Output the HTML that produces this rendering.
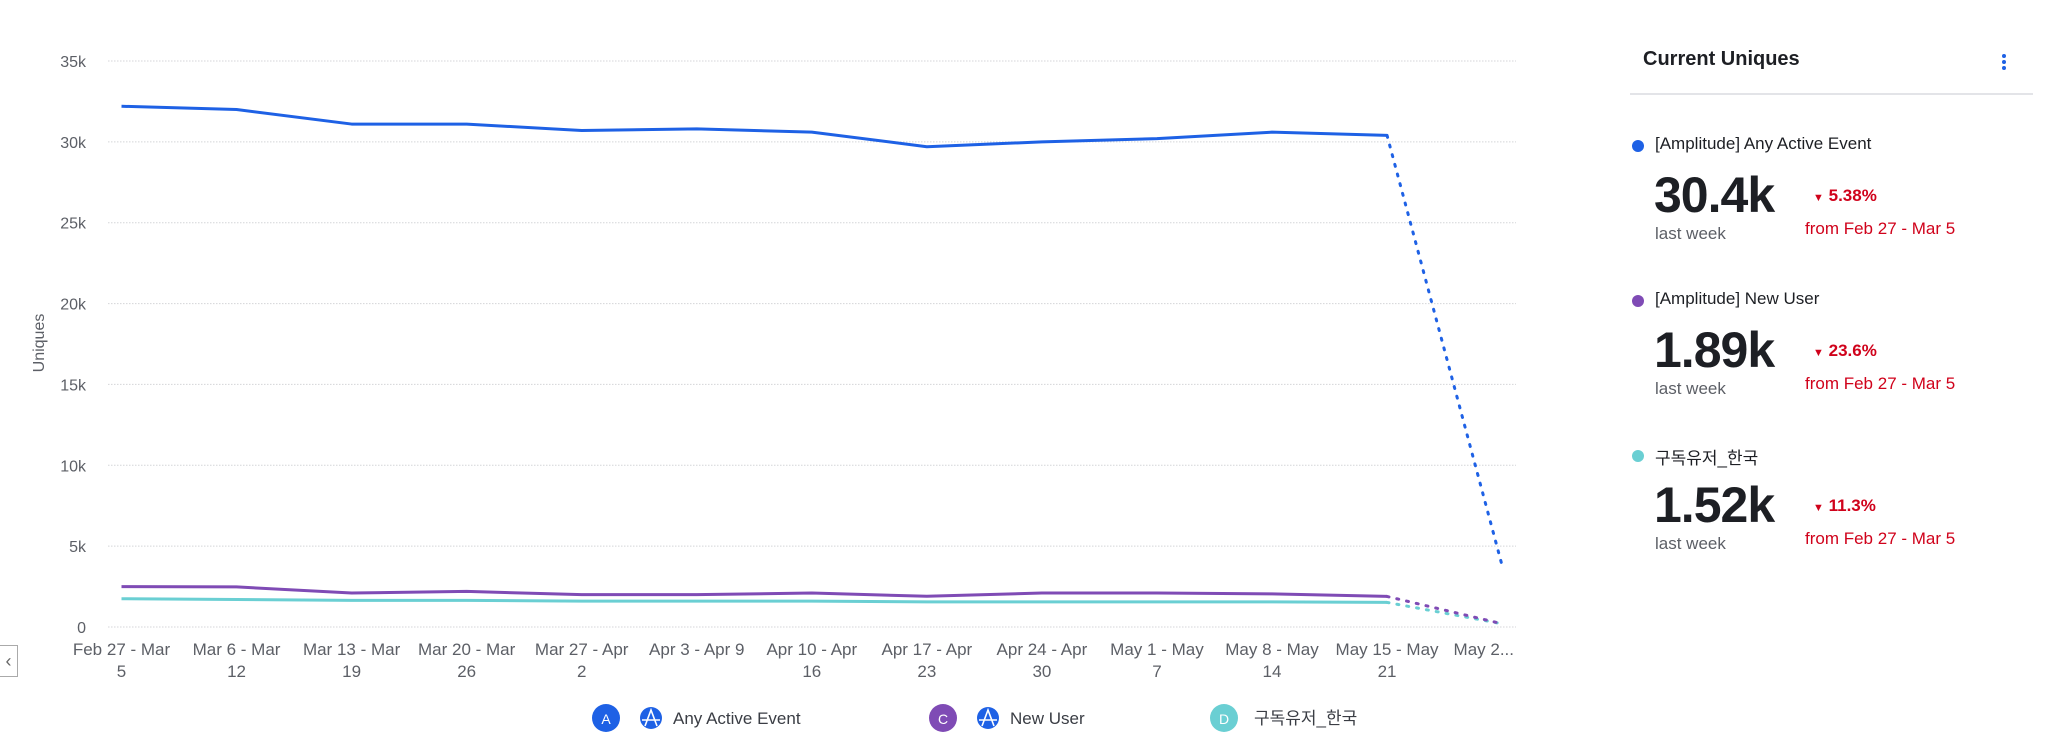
<!DOCTYPE html>
<html><head><meta charset="utf-8">
<style>
body{margin:0;width:2048px;height:755px;background:#fff;overflow:hidden;font-family:"Liberation Sans","Noto Sans CJK KR",sans-serif;}
svg text{font-family:"Liberation Sans","Noto Sans CJK KR",sans-serif;}
.panel{position:absolute;left:1630px;top:0;width:410px;height:755px;}
.title{position:absolute;left:13px;top:48px;font-size:20px;font-weight:bold;color:#1d1f24;}
.kebab{position:absolute;left:372px;top:54px;width:6px;}
.kebab i{display:block;width:4px;height:4px;border-radius:2px;background:#1e61e5;margin-bottom:2px;}
.divider{position:absolute;left:0;top:93px;width:403px;height:2px;background:#e3e4e8;}
.entry{position:absolute;left:0;width:410px;height:150px;}
.dot{position:absolute;left:2px;top:8px;width:12px;height:12px;border-radius:6px;}
.lbl{position:absolute;left:25px;top:2px;font-size:17px;color:#1d1f24;}
.big{position:absolute;left:24px;top:34px;font-size:50px;font-weight:bold;color:#1d1f24;letter-spacing:-1px;}
.lw{position:absolute;left:25px;top:92px;font-size:17px;color:#5c5f66;}
.pct{position:absolute;left:183px;top:54px;font-size:17px;font-weight:bold;color:#d0021b;}
.from{position:absolute;left:175px;top:87px;font-size:17px;color:#d0021b;}
.back{position:absolute;left:0;top:645px;width:18px;height:32px;border:1px solid #aaa;border-left:none;box-sizing:border-box;color:#666;font-size:18px;text-align:center;line-height:30px;}
</style></head><body>
<svg id="chart" width="1600" height="755" style="position:absolute;left:0;top:0"></svg>
<div class="back">&lsaquo;</div>
<div class="panel">
 <div class="title">Current Uniques</div>
 <div class="kebab"><i></i><i></i><i></i></div>
 <div class="divider"></div>
 <div class="entry" style="top:132px">
  <div class="dot" style="background:#1e61e5"></div>
  <div class="lbl">[Amplitude] Any Active Event</div>
  <div class="big">30.4k</div>
  <div class="lw">last week</div>
  <div class="pct"><span style="font-size:11px">▼</span> 5.38%</div>
  <div class="from">from Feb 27 - Mar 5</div>
 </div>
 <div class="entry" style="top:287px">
  <div class="dot" style="background:#7f4bb5"></div>
  <div class="lbl">[Amplitude] New User</div>
  <div class="big">1.89k</div>
  <div class="lw">last week</div>
  <div class="pct"><span style="font-size:11px">▼</span> 23.6%</div>
  <div class="from">from Feb 27 - Mar 5</div>
 </div>
 <div class="entry" style="top:442px">
  <div class="dot" style="background:#6acfd3"></div>
  <div class="lbl">구독유저_한국</div>
  <div class="big">1.52k</div>
  <div class="lw">last week</div>
  <div class="pct"><span style="font-size:11px">▼</span> 11.3%</div>
  <div class="from">from Feb 27 - Mar 5</div>
 </div>
</div>
<script>
const categories1 = ["Feb 27 - Mar","Mar 6 - Mar","Mar 13 - Mar","Mar 20 - Mar","Mar 27 - Apr","Apr 3 - Apr 9","Apr 10 - Apr","Apr 17 - Apr","Apr 24 - Apr","May 1 - May","May 8 - May","May 15 - May","May 2..."];
const categories2 = ["5","12","19","26","2","","16","23","30","7","14","21",""];
const activeEvent = [32200,32000,31100,31100,30700,30800,30600,29700,30000,30200,30600,30400,3800];
const newUser = [2500,2480,2100,2200,2000,2000,2100,1900,2100,2100,2050,1890,200];
const subscriberKr = [1750,1700,1650,1650,1600,1600,1600,1550,1550,1550,1550,1520,200];
const yTicks = [0,5000,10000,15000,20000,25000,30000,35000];
const yTickLabels = ["0","5k","10k","15k","20k","25k","30k","35k"];

const NS="http://www.w3.org/2000/svg";
const svg=document.getElementById('chart');
const x0=121.5, xStep=115.05, yBase=627, yTop=61, yMax=35000;
const xs=i=>x0+i*xStep;
const ys=v=>yBase-(v/yMax)*(yBase-yTop);
function mk(t,a){const e=document.createElementNS(NS,t);for(const k in a)e.setAttribute(k,a[k]);svg.appendChild(e);return e;}

yTicks.forEach((v,i)=>{
  const g=mk('line',{x1:108,x2:1516,y1:ys(v),y2:ys(v),stroke:'#d4d5d8','stroke-width':1,'stroke-dasharray':'1.5,1.5'});
  
  
  const t=mk('text',{x:86,y:ys(v)+6,'text-anchor':'end','font-size':16,fill:'#5c5f66'});
  t.textContent=yTickLabels[i];
  
  
});
const yt=mk('text',{x:44,y:343,'text-anchor':'middle','font-size':16,fill:'#5c5f66',transform:'rotate(-90 44 343)'});
yt.textContent='Uniques';



categories1.forEach((c,i)=>{
  const last=i===categories1.length-1;
  const t=mk('text',{x:last?1514:xs(i),y:655,'text-anchor':last?'end':'middle','font-size':17,fill:'#5c5f66'});
  t.textContent=c;
  
  
  if(categories2[i]){
    const t2=mk('text',{x:xs(i),y:677,'text-anchor':'middle','font-size':17,fill:'#5c5f66'});
    t2.textContent=categories2[i];
    
    
  }
});

function series(data,color,name){
  const n=data.length;
  const solid=data.slice(0,n-1).map((v,i)=>xs(i)+','+ys(v)).join(' ');
  const p=mk('polyline',{points:solid,fill:'none',stroke:color,'stroke-width':3,'stroke-linejoin':'round'});
  
  
  const d=mk('line',{x1:xs(n-2),y1:ys(data[n-2]),x2:xs(n-1),y2:ys(data[n-1]),stroke:color,'stroke-width':3,'stroke-dasharray':'2,8','stroke-linecap':'round'});
  
  
}
series(subscriberKr,'#6acfd3','subscriber-korea');
series(newUser,'#7f4bb5','new-user');
series(activeEvent,'#1e61e5','any-active-event');

function legendItem(cx,color,letter,text,amp,name){
  const c=mk('circle',{cx:cx,cy:718,r:14,fill:color});
  
  
  const l=mk('text',{x:cx,y:724,'text-anchor':'middle','font-size':14,fill:'#fff'});
  l.textContent=letter;
  
  
  let tx=cx+30;
  if(amp){
    const a=mk('circle',{cx:cx+45,cy:718,r:11,fill:'#1e61e5'});
    
    
    const w=mk('path',{d:`M${cx+36} 720 L${cx+54} 720 M${cx+39} 726 L${cx+45} 710 L${cx+51} 726`,stroke:'#fff','stroke-width':1.6,fill:'none'});
    
    
    tx=cx+67;
  }
  const t=mk('text',{x:tx,y:724,'font-size':17,fill:'#3a3d44'});
  t.textContent=text;
  
  
}
legendItem(606,'#1e61e5','A','Any Active Event',true,'any-active-event');
legendItem(943,'#7f4bb5','C','New User',true,'new-user');
legendItem(1224,'#6acfd3','D','구독유저_한국',false,'subscriber-korea');
</script>
</body></html>
